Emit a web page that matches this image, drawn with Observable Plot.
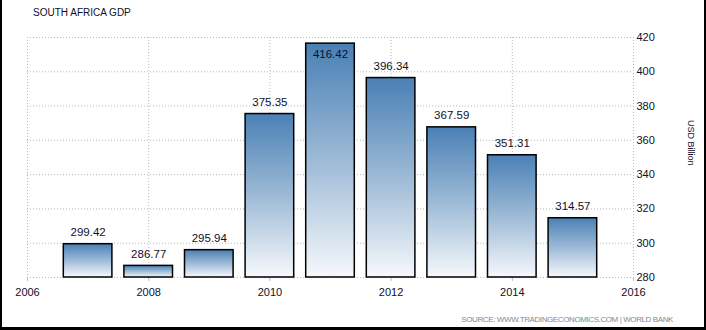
<!DOCTYPE html>
<html>
<head>
<meta charset="utf-8">
<script src="https://cdn.jsdelivr.net/npm/d3@7"></script>
<script src="https://cdn.jsdelivr.net/npm/@observablehq/plot@0.6"></script>
<style>
  html, body { margin: 0; padding: 0; background: #fff; }
  #wrap {
    position: relative; width: 706px; height: 330px; box-sizing: border-box;
    border-left: 2px solid #000; border-right: 2px solid #000; border-bottom: 3px solid #000;
    font-family: "Liberation Sans", Arial, sans-serif; overflow: hidden;
  }
  #title { height: 13px; padding: 7px 0 0 31px; font-size: 10px; line-height: 12px; color: #10102a; }
  #chart svg { display: block; }
  #source { height: 13px; padding: 2px 31px 0 0; text-align: right; font-size: 8px; letter-spacing: -0.4px; line-height: 12px; color: #7d8996; }
</style>
</head>
<body>
<div id="wrap">
  <div id="title">SOUTH AFRICA GDP</div>
  <div id="chart"></div>
  <div id="source">SOURCE: WWW.TRADINGECONOMICS.COM | WORLD BANK</div>
</div>
<script>
const years = [2007, 2008, 2009, 2010, 2011, 2012, 2013, 2014, 2015];
const gdp = [299.42, 286.77, 295.94, 375.35, 416.42, 396.34, 367.59, 351.31, 314.57];
const xTicks = [2006, 2008, 2010, 2012, 2014, 2016];
const yTicks = [280, 300, 320, 340, 360, 380, 400, 420];
const xDomain = [2006, 2016];
const yDomain = [280, 420];
const unitLabel = "USD Billion";

const data = years.map((year, i) => ({year, value: gdp[i]}));
const base = yDomain[0];
const inside = d => d.value > 410;

const plot = Plot.plot({
  width: 702,
  height: 292,
  marginLeft: 25,
  marginRight: 71,
  marginTop: 17,
  marginBottom: 35,
  style: {fontFamily: "'Liberation Sans', Arial, sans-serif", fontSize: "11px", color: "#10102a", background: "#fff"},
  x: {domain: xDomain},
  y: {domain: yDomain},
  marks: [
    Plot.gridY(yTicks, {stroke: "#b8b8b8", strokeOpacity: 1, strokeDasharray: "1,2"}),
    Plot.gridX(xTicks, {stroke: "#b8b8b8", strokeOpacity: 1, strokeDasharray: "1,2"}),
    Plot.axisX(xTicks, {tickSize: 4, tickPadding: 7, tickFormat: "d", stroke: "#bbb", fill: "#10102a", label: null, fontSize: 11}),
    Plot.axisY(yTicks, {anchor: "right", tickSize: 0, tickPadding: 3, label: null, fill: "#10102a", fontSize: 11}),
    Plot.rect(data, {
      x1: d => d.year - 0.5, x2: d => d.year + 0.5, insetLeft: 6, insetRight: 6,
      y1: () => base, y2: "value",
      fill: "url(#barGrad)", stroke: "#000", strokeWidth: 1.5
    }),
    Plot.text(data.filter(d => !inside(d)), {x: "year", y: "value", text: d => d.value.toFixed(2), dy: -12, fontSize: 11.5, fill: "#10102a"}),
    Plot.text(data.filter(inside), {x: "year", y: "value", text: d => d.value.toFixed(2), dy: 11, fontSize: 11.5, fill: "#10102a"}),
    Plot.text([unitLabel], {frameAnchor: "right", dx: 57, dy: 8, rotate: 90, fontSize: 9, fill: "#10102a"})
  ]
});

const ns = "http://www.w3.org/2000/svg";
const defs = document.createElementNS(ns, "defs");
const grad = document.createElementNS(ns, "linearGradient");
grad.setAttribute("id", "barGrad");
grad.setAttribute("x1", "0"); grad.setAttribute("y1", "0");
grad.setAttribute("x2", "0"); grad.setAttribute("y2", "1");
[["0%", "#4a80b5"], ["50%", "#9dbad6"], ["100%", "#f6f8fc"]].forEach(([o, c]) => {
  const s = document.createElementNS(ns, "stop");
  s.setAttribute("offset", o); s.setAttribute("stop-color", c);
  grad.appendChild(s);
});
defs.appendChild(grad);
plot.insertBefore(defs, plot.firstChild);
document.getElementById("chart").appendChild(plot);
</script>
</body>
</html>
